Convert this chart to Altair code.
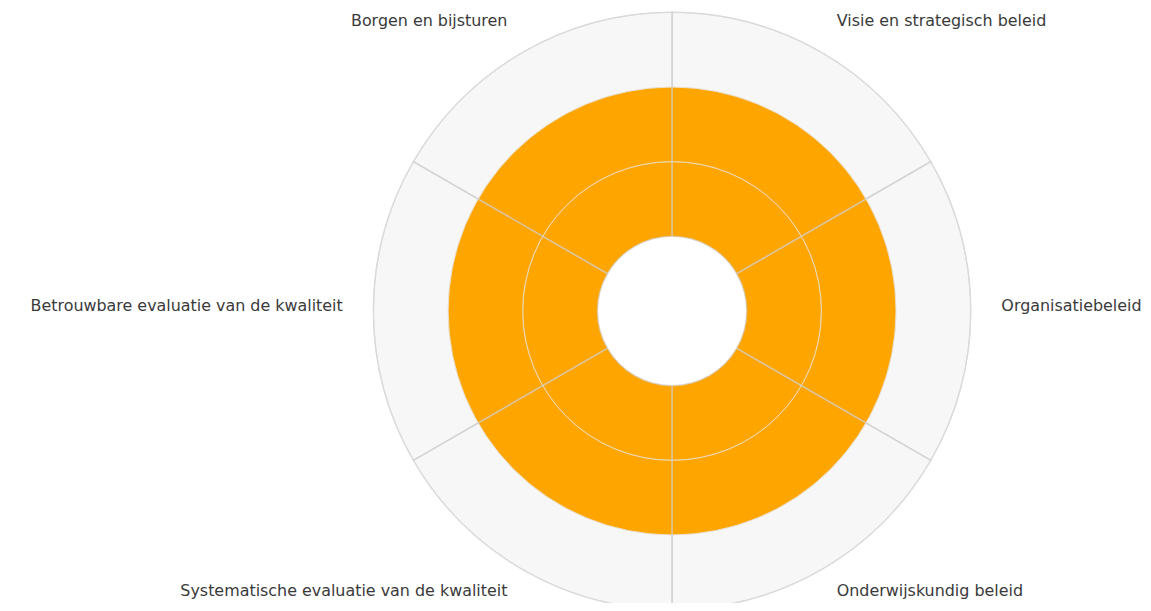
import altair as alt
import pandas as pd

# ---- data ----
categories = [
    "Visie en strategisch beleid",
    "Organisatiebeleid",
    "Onderwijskundig beleid",
    "Systematische evaluatie van de kwaliteit",
    "Betrouwbare evaluatie van de kwaliteit",
    "Borgen en bijsturen",
]
scores = [2, 2, 2, 2, 2, 2]
max_score = 3
grid_levels = [1, 2, 3]

n = len(categories)
df = pd.DataFrame({
    "categorie": categories,
    "start": list(range(n)),
    "end": [i + 1 for i in range(n)],
    "mid": [i + 0.5 for i in range(n)],
    "score": scores,
    "base": [0] * n,
    "max": [max_score] * n,
    "label_r": [max_score + 0.41] * n,
    "side": ["right" if i < n / 2 else "left" for i in range(n)],
})
rings = pd.DataFrame({"level": grid_levels, "start": [0] * len(grid_levels),
                      "end": [n] * len(grid_levels)})

CX, CY = 667, 303
theta_scale = alt.Scale(domain=[0, n], range=[0, 6.283185307179586])
r_scale = alt.Scale(type="linear", domain=[0, max_score], range=[75, 300], zero=False, nice=False)

center = dict(x=alt.value(CX), y=alt.value(CY))

bg = alt.Chart(df).mark_arc(fill="#f7f7f7", stroke="#dcdcdc", strokeWidth=1).encode(
    theta=alt.Theta("start:Q", scale=theta_scale),
    theta2="end:Q",
    radius=alt.Radius("max:Q", scale=r_scale),
    radius2="base:Q",
    **center,
)

bars = alt.Chart(df).mark_arc(fill="#FFA500", stroke=None).encode(
    theta=alt.Theta("start:Q", scale=theta_scale),
    theta2="end:Q",
    radius=alt.Radius("score:Q", scale=r_scale),
    radius2="base:Q",
    **center,
)

ring_lines = alt.Chart(rings).mark_arc(fill=None, stroke="#e6e6e6", strokeWidth=1, strokeOpacity=0.6).encode(
    theta=alt.Theta("start:Q", scale=theta_scale),
    theta2="end:Q",
    radius=alt.Radius("level:Q", scale=r_scale),
    radius2="level:Q",
    **center,
)

spokes = alt.Chart(df).mark_arc(fill=None, stroke="#cfcfcf", strokeWidth=1.5, strokeOpacity=0.5).encode(
    theta=alt.Theta("start:Q", scale=theta_scale),
    theta2="end:Q",
    radius=alt.Radius("max:Q", scale=r_scale),
    radius2="base:Q",
    **center,
)

text_common = dict(font="DejaVu Sans", fontSize=16, color="#3a3a3a",
                   baseline="middle", dy=-5)

labels_right = alt.Chart(df).transform_filter(alt.datum.side == "right").mark_text(
    align="left", **text_common).encode(
    theta=alt.Theta("mid:Q", scale=theta_scale),
    radius=alt.Radius("label_r:Q", scale=r_scale),
    text="categorie:N",
    **center,
)
labels_left = alt.Chart(df).transform_filter(alt.datum.side == "left").mark_text(
    align="right", **text_common).encode(
    theta=alt.Theta("mid:Q", scale=theta_scale),
    radius=alt.Radius("label_r:Q", scale=r_scale),
    text="categorie:N",
    **center,
)

chart = alt.layer(bg, bars, ring_lines, spokes, labels_right, labels_left).properties(
    width=1140, height=595, autosize=alt.AutoSizeParams(type="none"), padding=0,
).configure_view(stroke=None)

chart.save("out.html", embed_options={"renderer": "svg", "actions": False})
